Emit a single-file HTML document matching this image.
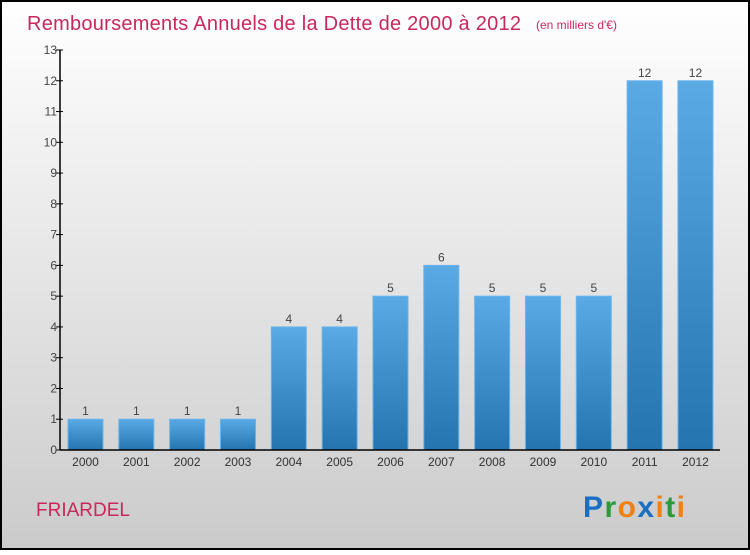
<!DOCTYPE html>
<html><head><meta charset="utf-8"><style>
html,body{margin:0;padding:0}
body{width:750px;height:550px;overflow:hidden;font-family:"Liberation Sans",sans-serif}
</style></head><body>
<svg width="750" height="550" xmlns="http://www.w3.org/2000/svg">
<defs>
<linearGradient id="bg" x1="0" y1="0" x2="0" y2="1"><stop offset="0" stop-color="#ffffff"/><stop offset="1" stop-color="#cbcbcb"/></linearGradient>
<linearGradient id="bar" x1="0" y1="0" x2="0" y2="1"><stop offset="0" stop-color="#5aaae5"/><stop offset="1" stop-color="#2474b0"/></linearGradient>
</defs>
<rect x="1" y="1" width="748" height="548" fill="url(#bg)" stroke="#000" stroke-width="2"/>
<text x="27" y="30" font-size="20" fill="#c8285a" textLength="494">Remboursements Annuels de la Dette de 2000 à 2012</text>
<text x="536" y="29" font-size="12" fill="#c8285a">(en milliers d'€)</text>
<g id="plot"></g>
<text x="36" y="516" font-size="19" fill="#c8285a">FRIARDEL</text>
<text x="583" y="517" font-size="30" font-weight="bold" textLength="102"><tspan fill="#1a6fc0">P</tspan><tspan fill="#2a9a3a">r</tspan><tspan fill="#f08010">o</tspan><tspan fill="#1a6fc0">x</tspan><tspan fill="#f08010">i</tspan><tspan fill="#2a9a3a">t</tspan><tspan fill="#f08010">i</tspan></text>
</svg>
<script>
const categories=["2000","2001","2002","2003","2004","2005","2006","2007","2008","2009","2010","2011","2012"];
const values=[1,1,1,1,4,4,5,6,5,5,5,12,12];
const yTicks=[0,1,2,3,4,5,6,7,8,9,10,11,12,13];
const NS="http://www.w3.org/2000/svg";
const g=document.getElementById("plot");
const x0=60,x1=720,yBase=450,yTop=50,yMax=13;
const y=v=>yBase-(v/yMax)*(yBase-yTop);
const step=50.83,first=85.5,bw=35;
const xc=i=>first+i*step;
function mk(t,a){const e=document.createElementNS(NS,t);for(const k in a)e.setAttribute(k,a[k]);g.appendChild(e);return e;}
values.forEach((v,i)=>{
 const r=mk("rect",{x:xc(i)-bw/2,y:y(v),width:bw,height:yBase-y(v),fill:"url(#bar)",stroke:"#6ab4ea","stroke-width":1});
 
 
 const t=mk("text",{x:xc(i),y:y(v)-4,"font-size":12,"text-anchor":"middle",fill:"#444"});
 t.textContent=v;
 
 
 const c=mk("text",{x:xc(i),y:466,"font-size":12,"text-anchor":"middle",fill:"#333"});
 c.textContent=categories[i];
 
 
});
yTicks.forEach(v=>{
 const l=mk("line",{x1:x0-4,x2:x0+3,y1:y(v),y2:y(v),stroke:"#000"});
 
 
 const t=mk("text",{x:x0-3,y:y(v)+4,"font-size":12,"text-anchor":"end",fill:"#444"});
 t.textContent=v;
 
 
});
const ya=mk("line",{x1:x0,x2:x0,y1:yTop,y2:yBase,stroke:"#000","stroke-width":1.5});


const xa=mk("line",{x1:x0,x2:x1,y1:yBase,y2:yBase,stroke:"#000","stroke-width":1.5});


</script>
</body></html>
